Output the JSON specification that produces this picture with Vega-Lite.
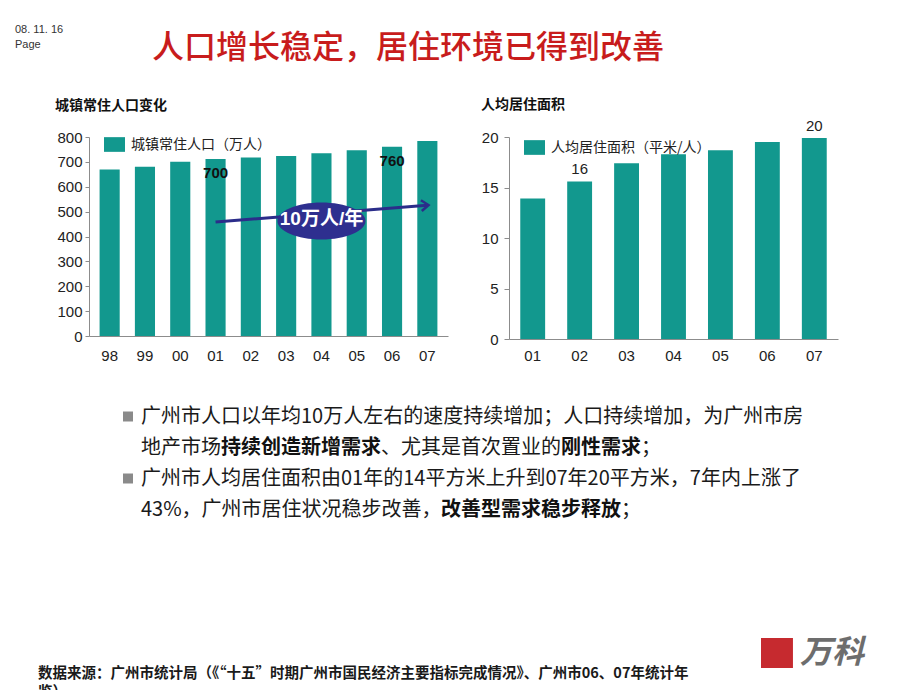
{
  "$schema": "https://vega.github.io/schema/vega-lite/v6.json",
  "background": "white",
  "padding": {"left": 15, "top": 24, "right": 5, "bottom": 0},
  "config": {"view": {"stroke": null}, "font": "Liberation Sans", "axisY": {"labelOverlap": false, "labelBound": false}},
  "title": {"text": "人口增长稳定，居住环境已得到改善", "anchor": "start", "frame": "group", "dx": 63, "font": "Noto Sans CJK SC", "fontSize": 32, "fontWeight": 500, "color": "#c81c1c", "offset": -41},
  "spacing": 38,
  "vconcat": [
    {
      "title": {"text": ["08. 11. 16", "Page"], "anchor": "start", "frame": "group", "dx": -74, "font": "Liberation Sans", "fontSize": 11, "fontWeight": "normal", "color": "#333333", "lineHeight": 15, "offset": 48},
      "spacing": 33,
      "resolve": {"scale": {"color": "independent"}, "legend": {"color": "independent"}},
      "hconcat": [
        {
          "width": 359,
          "height": 199,
          "title": {"text": "城镇常住人口变化", "anchor": "start", "frame": "group", "dx": -34, "font": "Noto Sans CJK SC", "fontSize": 14, "fontWeight": "bold", "color": "#111111", "offset": 17},
          "data": {"values": [
            {"year": "98", "pop": 669, "series": "城镇常住人口（万人）"},
            {"year": "99", "pop": 680, "series": "城镇常住人口（万人）"},
            {"year": "00", "pop": 701, "series": "城镇常住人口（万人）"},
            {"year": "01", "pop": 712, "series": "城镇常住人口（万人）", "label": "700"},
            {"year": "02", "pop": 718, "series": "城镇常住人口（万人）"},
            {"year": "03", "pop": 724, "series": "城镇常住人口（万人）"},
            {"year": "04", "pop": 735, "series": "城镇常住人口（万人）"},
            {"year": "05", "pop": 747, "series": "城镇常住人口（万人）"},
            {"year": "06", "pop": 761, "series": "城镇常住人口（万人）", "label": "760"},
            {"year": "07", "pop": 784, "series": "城镇常住人口（万人）"}
          ]},
          "encoding": {
            "x": {"field": "year", "type": "ordinal", "scale": {"domain": ["98","99","00","01","02","03","04","05","06","07"], "paddingInner": 0.43, "paddingOuter": 0.3}, "axis": {"title": null, "labelAngle": 0, "ticks": false, "labelPadding": 12, "labelFontSize": 15, "labelColor": "#222222", "domainColor": "#8c8c8c"}},
            "y": {"field": "pop", "type": "quantitative", "scale": {"domain": [0, 800], "nice": false}, "axis": {"title": null, "grid": false, "tickCount": 9, "labelOverlap": false, "tickSize": 4, "labelPadding": 3, "labelFontSize": 15, "labelColor": "#222222", "domainColor": "#8c8c8c", "tickColor": "#8c8c8c"}}
          },
          "layer": [
            {
              "mark": {"type": "bar"},
              "encoding": {
                "color": {"field": "series", "type": "nominal", "scale": {"range": ["#12988e"]}, "legend": {"title": null, "orient": "none", "legendX": 14, "legendY": -4, "symbolType": "M-1,-0.7H1V0.7H-1Z", "symbolSize": 441, "labelFont": "Noto Sans CJK SC", "labelFontSize": 14, "labelColor": "#222222", "labelOffset": 5, "padding": 0}}
              }
            },
            {
              "transform": [{"filter": "datum.label != null"}],
              "mark": {"type": "text", "baseline": "top", "dy": 7, "fontSize": 15, "fontWeight": "bold", "color": "#111111"},
              "encoding": {"text": {"field": "label"}}
            },
            {
              "data": {"values": [{"year": "01", "pop": 458}, {"year": "07", "pop": 526}]},
              "mark": {"type": "line", "color": "#2b2d8a", "strokeWidth": 3}
            },
            {
              "data": {"values": [{"year": "07", "pop": 526}]},
              "mark": {"type": "point", "shape": "M-1,-0.9L0.2,0L-1,0.9", "filled": false, "stroke": "#2b2d8a", "strokeWidth": 2.5, "size": 144, "angle": -4.6, "opacity": 1}
            },
            {
              "data": {"values": [{"year": "04", "pop": 462, "note": "10万人/年"}]},
              "mark": {"type": "point", "shape": "M-1,0C-1,-0.232,-0.552,-0.42,0,-0.42C0.552,-0.42,1,-0.232,1,0C1,0.232,0.552,0.42,0,0.42C-0.552,0.42,-1,0.232,-1,0Z", "filled": true, "color": "#2e2f8f", "size": 7744, "opacity": 1, "strokeWidth": 0}
            },
            {
              "data": {"values": [{"year": "04", "pop": 462, "note": "10万人/年"}]},
              "mark": {"type": "text", "font": "Liberation Sans, Noto Sans CJK SC", "fontSize": 19, "fontWeight": "bold", "color": "white", "dy": -2},
              "encoding": {"text": {"field": "note"}}
            }
          ]
        },
        {
          "width": 329,
          "height": 202,
          "title": {"text": "人均居住面积", "anchor": "start", "frame": "group", "dx": -28, "font": "Noto Sans CJK SC", "fontSize": 14, "fontWeight": "bold", "color": "#111111", "offset": 7},
          "data": {"values": [
            {"year": "01", "area": 13.9, "series": "人均居住面积（平米/人）"},
            {"year": "02", "area": 15.6, "series": "人均居住面积（平米/人）", "label": "16"},
            {"year": "03", "area": 17.4, "series": "人均居住面积（平米/人）"},
            {"year": "04", "area": 18.3, "series": "人均居住面积（平米/人）"},
            {"year": "05", "area": 18.7, "series": "人均居住面积（平米/人）"},
            {"year": "06", "area": 19.5, "series": "人均居住面积（平米/人）"},
            {"year": "07", "area": 19.9, "series": "人均居住面积（平米/人）", "label": "20"}
          ]},
          "encoding": {
            "x": {"field": "year", "type": "ordinal", "scale": {"paddingInner": 0.47, "paddingOuter": 0.24}, "axis": {"title": null, "labelAngle": 0, "ticks": false, "labelPadding": 9, "labelFontSize": 15, "labelColor": "#222222", "domainColor": "#8c8c8c"}},
            "y": {"field": "area", "type": "quantitative", "scale": {"domain": [0, 20], "nice": false}, "axis": {"title": null, "grid": false, "tickCount": 5, "labelOverlap": false, "tickSize": 5, "labelPadding": 6, "labelFontSize": 15, "labelColor": "#222222", "domainColor": "#8c8c8c", "tickColor": "#8c8c8c"}}
          },
          "layer": [
            {
              "mark": {"type": "bar"},
              "encoding": {
                "color": {"field": "series", "type": "nominal", "scale": {"range": ["#12988e"]}, "legend": {"title": null, "orient": "none", "legendX": 14, "legendY": -1, "symbolType": "M-1,-0.7H1V0.7H-1Z", "symbolSize": 441, "labelFont": "Noto Sans CJK SC", "labelFontSize": 14, "labelColor": "#222222", "labelOffset": 5, "padding": 0}}
              }
            },
            {
              "transform": [{"filter": "datum.label != null"}],
              "mark": {"type": "text", "baseline": "bottom", "dy": -4, "fontSize": 15, "color": "#222222"},
              "encoding": {"text": {"field": "label"}}
            }
          ]
        }
      ]
    },
    {
      "width": 780,
      "height": 198,
      "data": {"values": [
        {"line": 1, "col": 0, "text": "广州市人口以年均10万人左右的速度持续增加；人口持续增加，为广州市房", "emphasis": false, "bullet": true},
        {"line": 2, "col": 0, "text": "地产市场", "emphasis": false, "bullet": false},
        {"line": 2, "col": 4, "text": "持续创造新增需求", "emphasis": true, "bullet": false},
        {"line": 2, "col": 12, "text": "、尤其是首次置业的", "emphasis": false, "bullet": false},
        {"line": 2, "col": 21, "text": "刚性需求", "emphasis": true, "bullet": false},
        {"line": 2, "col": 25, "text": "；", "emphasis": false, "bullet": false},
        {"line": 3, "col": 0, "text": "广州市人均居住面积由01年的14平方米上升到07年20平方米，7年内上涨了", "emphasis": false, "bullet": true},
        {"line": 4, "col": 0, "text": "43%，广州市居住状况稳步改善，", "emphasis": false, "bullet": false},
        {"line": 4, "col": 15, "text": "改善型需求稳步释放", "emphasis": true, "bullet": false},
        {"line": 4, "col": 24, "text": "；", "emphasis": false, "bullet": false}
      ]},
      "encoding": {
        "x": {"field": "col", "type": "quantitative", "scale": {"domain": [-2.6, 36.4], "zero": false, "nice": false}, "axis": null},
        "y": {"field": "line", "type": "quantitative", "scale": {"domain": [0.5, 6.887], "reverse": true, "zero": false, "nice": false}, "axis": null}
      },
      "layer": [
        {
          "transform": [{"filter": "!datum.emphasis"}],
          "mark": {"type": "text", "align": "left", "baseline": "middle", "font": "Noto Sans CJK SC", "fontSize": 20, "fontWeight": "normal", "color": "#1a1a1a"},
          "encoding": {"text": {"field": "text"}}
        },
        {
          "transform": [{"filter": "datum.emphasis"}],
          "mark": {"type": "text", "align": "left", "baseline": "middle", "font": "Noto Sans CJK SC", "fontSize": 20, "fontWeight": "bold", "color": "#111111"},
          "encoding": {"text": {"field": "text"}}
        },
        {
          "transform": [{"filter": "datum.bullet"}],
          "mark": {"type": "point", "shape": "M-3.6,-1H-1.6V1H-3.6Z", "size": 100, "filled": true, "color": "#8a8a8a", "opacity": 1}
        }
      ]
    },
    {
      "width": 800,
      "height": 14,
      "data": {"values": [
        {"part": "source", "text": "数据来源：广州市统计局（《“十五”时期广州市国民经济主要指标完成情况》、广州市06、07年统计年\n鉴）"},
        {"part": "brand", "text": "万科"}
      ]},
      "encoding": {
        "x": {"field": "part", "type": "nominal", "scale": {"type": "point", "domain": ["source", "brand"], "range": [-51, 711], "padding": 0}, "axis": null},
        "y": {"field": "part", "type": "nominal", "scale": {"type": "point", "domain": ["brand", "source"], "range": [0, 14], "padding": 0}, "axis": null}
      },
      "layer": [
        {
          "transform": [{"filter": "datum.part === 'source'"}],
          "mark": {"type": "text", "align": "left", "baseline": "top", "font": "Noto Sans CJK SC", "fontSize": 14.5, "fontWeight": "bold", "color": "#1a1a1a", "lineBreak": "\n", "lineHeight": 19},
          "encoding": {"text": {"field": "text"}}
        },
        {
          "transform": [{"filter": "datum.part === 'brand'"}],
          "mark": {"type": "point", "shape": "M-2.6,-1H-0.47V1H-2.6Z", "size": 900, "filled": true, "color": "#c62a2f", "opacity": 1}
        },
        {
          "transform": [{"filter": "datum.part === 'brand'"}],
          "mark": {"type": "text", "align": "left", "baseline": "middle", "font": "Noto Sans CJK SC", "fontSize": 32, "fontWeight": "bold", "fontStyle": "italic", "color": "#6d6d6d"},
          "encoding": {"text": {"field": "text"}}
        }
      ]
    }
  ]
}
